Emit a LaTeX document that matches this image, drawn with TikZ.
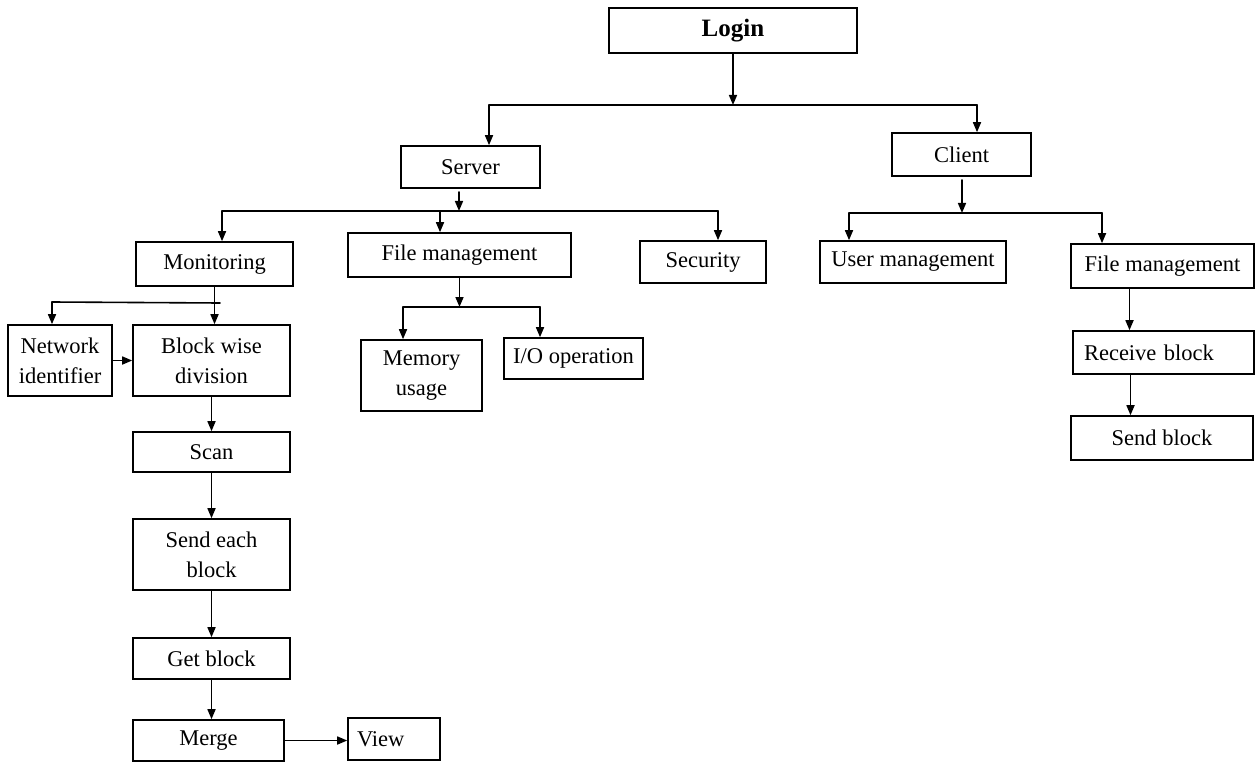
\documentclass[tikz,border=0pt]{standalone}
\usepackage{fontspec}
\setmainfont{Liberation Serif}
\usetikzlibrary{arrows.meta}
\tikzset{
  box/.style={draw, rectangle, line width=1.6pt, inner sep=2pt, align=center, font=\fontsize{22.5}{30}\selectfont},
  arr/.style={line width=1.6pt, -{Triangle[length=10pt,width=8pt]}},
  bus/.style={line width=1.6pt}
}

\begin{document}
\begin{tikzpicture}[x=1pt,y=-1pt, line cap=round]
          \useasboundingbox (0,0) rectangle (1255,762);
          %raiz
          \node[box, minimum width=248pt, minimum height=45pt, font=\fontsize{25}{30}\selectfont\bfseries] (login) at (733,30.5) {Login};
          %segundo nivel
          \node[box, minimum width=139pt, minimum height=42pt] (server) at (470.5,167) {Server};
          \node[box, minimum width=139pt, minimum height=43pt] (client) at (961.5,154.5) {Client};
          %servidor
          \node[box, minimum width=157pt, minimum height=44pt] (monitor) at (214.5,264) {Monitoring};
          \node[box, minimum width=223pt, minimum height=44pt] (fmserv) at (459.5,255) {File management};
          \node[box, minimum width=126pt, minimum height=42pt] (security) at (703,262) {Security};
          %cliente
          \node[box, minimum width=186pt, minimum height=42pt] (usermgmt) at (913,262) {User management};
          \node[box, minimum width=183pt, minimum height=44pt] (fmclient) at (1162.5,266) {File management};
          \node[box, minimum width=181pt, minimum height=43pt, text width=159pt, inner xsep=11pt, align=left] (receive) at (1163.5,352.5) {Receive block};
          \node[box, minimum width=182pt, minimum height=44pt] (sendblk) at (1162,438) {Send block};
          %monitoreo
          \node[box, minimum width=104pt, minimum height=71pt] (network) at (60,360.5) {Network\\identifier};
          \node[box, minimum width=157pt, minimum height=71pt] (blockdiv) at (211.5,360.5) {Block wise\\division};
          \node[box, minimum width=157pt, minimum height=40pt] (scan) at (211.5,452) {Scan};
          \node[box, minimum width=157pt, minimum height=71pt] (sendeach) at (211.5,554.5) {Send each\\block};
          \node[box, minimum width=157pt, minimum height=41pt] (getblock) at (211.5,658.5) {Get block};
          \node[box, minimum width=151pt, minimum height=41pt] (merge) at (208.5,740.5) {Merge};
          \node[box, minimum width=92pt, minimum height=42pt, text width=74pt, inner xsep=9pt, align=left] (view) at (394,739) {View};
          %archivos servidor
          \node[box, minimum width=121pt, minimum height=71pt] (memory) at (421.5,375.5) {Memory\\usage};
          \node[box, minimum width=139pt, minimum height=41pt] (io) at (573.5,358.5) {I/O operation};
          %buses
          \coordinate (loginbusL) at (489,105);
          \coordinate (loginbusR) at (977,105);
          \coordinate (srvtap) at (459,192);
          \coordinate (srvbusL) at (222,211);
          \coordinate (srvbusM) at (440,211);
          \coordinate (srvbusR) at (718,211);
          \coordinate (monbusL) at (52,302);
          \coordinate (monbusR) at (220,303);
          \coordinate (fmbusL) at (403,307);
          \coordinate (fmbusR) at (540,307);
          \coordinate (clitap) at (962,180);
          \coordinate (clibusL) at (849,213);
          \coordinate (clibusR) at (1102,213);
          %login
          \draw[arr] (login.south) -- (login.south |- loginbusL);
          \draw[bus] (loginbusL) -- (loginbusR);
          \draw[arr] (loginbusL) -- (loginbusL |- server.north);
          \draw[arr] (loginbusR) -- (loginbusR |- client.north);
          %servidor
          \draw[arr] (srvtap) -- (srvtap |- srvbusL);
          \draw[bus] (srvbusL) -- (srvbusR);
          \draw[arr] (srvbusL) -- (srvbusL |- monitor.north);
          \draw[arr] (srvbusM) -- (srvbusM |- fmserv.north);
          \draw[arr] (srvbusR) -- (srvbusR |- security.north);
          %monitoreo
          \draw[arr] (monitor.south) -- (monitor.south |- blockdiv.north);
          \draw[bus] (monbusL) -- (monbusR);
          \draw[arr] (monbusL) -- (monbusL |- network.north);
          \draw[arr] (network.east) -- (blockdiv.west);
          \draw[arr] (blockdiv.south) -- (scan.north);
          \draw[arr] (scan.south) -- (sendeach.north);
          \draw[arr] (sendeach.south) -- (getblock.north);
          \draw[arr] (getblock.south) -- (getblock.south |- merge.north);
          \draw[arr] (merge.east) -- (merge.east -| view.west);
          %archivos servidor
          \draw[arr] (fmserv.south) -- (fmserv.south |- fmbusL);
          \draw[bus] (fmbusL) -- (fmbusR);
          \draw[arr] (fmbusL) -- (fmbusL |- memory.north);
          \draw[arr] (fmbusR) -- (fmbusR |- io.north);
          %cliente
          \draw[arr] (clitap) -- (clitap |- clibusL);
          \draw[bus] (clibusL) -- (clibusR);
          \draw[arr] (clibusL) -- (clibusL |- usermgmt.north);
          \draw[arr] (clibusR) -- (clibusR |- fmclient.north);
          \draw[arr] ([xshift=-33pt]fmclient.south) -- ([xshift=-33pt]fmclient.south |- receive.north);
          \draw[arr] ([xshift=-33pt]receive.south) -- ([xshift=-33pt]receive.south |- sendblk.north);
        \end{tikzpicture}
\end{document}
